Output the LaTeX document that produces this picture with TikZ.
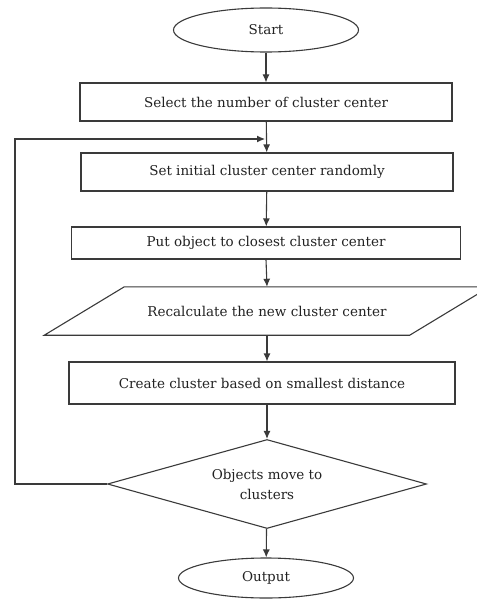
\documentclass[tikz,border=0pt]{standalone}
\usepackage{fontspec}
\setmainfont{DejaVu Serif}
\usepackage{tikz}
\usetikzlibrary{shapes.geometric, positioning, calc, arrows.meta}

\definecolor{linegray}{HTML}{3A3A3A}
\definecolor{textgray}{HTML}{222222}

\begin{document}
\begin{tikzpicture}[x=1pt,y=-1pt,>={Latex[length=8pt,width=7pt]},
                    every node/.style={text=textgray,font=\fontsize{13.5}{20}\selectfont},
                    term node/.style={ellipse,draw=linegray,line width=1.1pt,minimum width=185pt,minimum height=44pt},
                    proc node/.style={rectangle,draw=linegray,line width=1.1pt,minimum width=372pt,minimum height=38pt},
                    io node/.style={rectangle,minimum width=365pt,minimum height=48pt},
                    test node/.style={diamond,draw=linegray,line width=1.1pt,aspect=3.6,minimum width=319pt,minimum height=89pt,align=center,inner sep=1pt}]

  \useasboundingbox (0,0) rectangle (476,599);

  \node[term node] (start) at (266,30) {Start};
  \node[proc node] (select) at (266,102) {Select the number of cluster center};
  \node[proc node] (init) at (267,172) {Set initial cluster center randomly};
  \node[proc node,minimum width=389pt,minimum height=32pt] (put) at (266,243) {Put object to closest cluster center};
  \node[io node] (recalc) at (267,311) {Recalculate the new cluster center};
  \node[proc node,minimum width=386pt,minimum height=42pt] (create) at (262,383) {Create cluster based on smallest distance};
  \node[test node] (move) at (267,484) {Objects move to\\clusters};
  \node[term node,minimum width=175pt,minimum height=40pt] (output) at (266,578) {Output};

  % slanted input/output box
  \draw[line width=1.1pt,draw=linegray] ($(recalc.south west)+(-40,0)$) -- ($(recalc.north west)+(40,0)$)
    -- ($(recalc.north east)+(40,0)$) -- ($(recalc.south east)+(-40,0)$) -- cycle;

  \coordinate (loop) at (265,139);

  \path[line width=1.1pt,->,linegray]
  (start) edge (select)
  (select) edge (init)
  (init) edge (put)
  (put.south) edge (recalc.north)
  (recalc.south) edge (recalc.south |- create.north)
  (create.south -| move.north) edge (move.north)
  (move) edge (output);

  \draw[line width=1.1pt,->,linegray] (move.west) -- ++(-92,0) |- (loop);

\end{tikzpicture}
\end{document}
